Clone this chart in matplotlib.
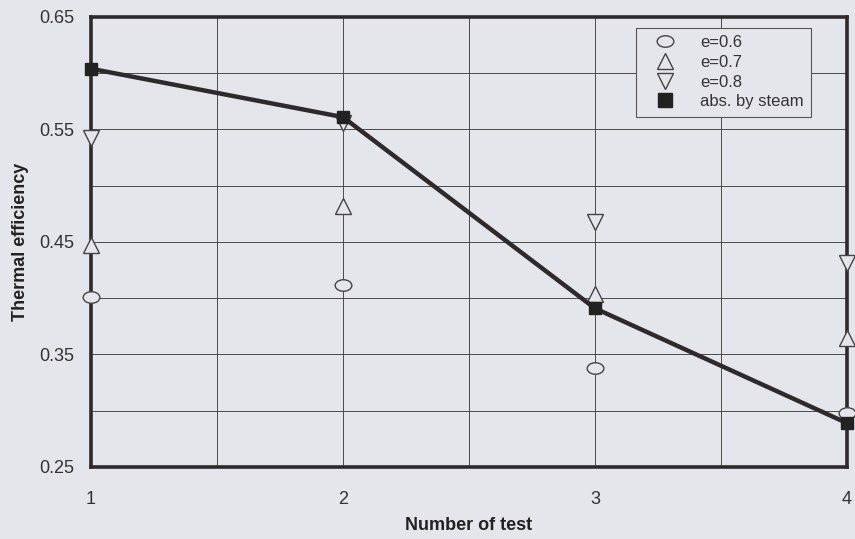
import numpy as np
import matplotlib
matplotlib.use('Agg')
import matplotlib.pyplot as plt
from matplotlib.path import Path
from matplotlib.transforms import Affine2D
from matplotlib.lines import Line2D

plt.rcParams['font.family'] = ['Liberation Sans', 'DejaVu Sans']

# 数据
tests = [1, 2, 3, 4]
e06 = [0.401, 0.412, 0.338, 0.298]
e07 = [0.447, 0.482, 0.404, 0.365]
e08 = [0.542, 0.556, 0.468, 0.431]
steam = [0.604, 0.561, 0.391, 0.289]

y_ticks = [0.25, 0.35, 0.45, 0.55, 0.65]
x_ticks = [1, 2, 3, 4]

bg = '#e5e5ec'
dark = '#2e2a2c'
mk = '#444444'

# 椭圆标记
ellipse = Path.unit_circle().transformed(Affine2D().scale(1.45, 1.0))

fig = plt.figure(figsize=(8.55, 5.39), dpi=100, facecolor=bg)
ax = fig.add_axes([0.1064, 0.1336, 0.8842, 0.8349], facecolor=bg)

style = dict(linestyle='none', markersize=12, markerfacecolor=bg,
             markeredgecolor=mk, markeredgewidth=1.0, zorder=4, clip_on=False)
ax.plot(tests, e06, marker=ellipse, **style)
ax.plot(tests, e07, marker='^', **style)
ax.plot(tests, e08, marker='v', **style)
ax.plot(tests, steam, linestyle='-', color=dark, linewidth=3.2, marker='s', markersize=9,
        markerfacecolor='#222', markeredgecolor='#222', zorder=5, clip_on=False)

ax.set_xlim(1, 4)
ax.set_ylim(0.25, 0.65)
ax.set_xticks(x_ticks)
ax.set_yticks(y_ticks)
ax.set_yticklabels(['%.2f' % v for v in y_ticks])
ax.set_xticks(np.arange(1, 4.01, 0.5), minor=True)
ax.set_yticks(np.arange(0.25, 0.651, 0.05), minor=True)
ax.grid(True, which='both', color='#4a4a4a', linewidth=0.7)
ax.tick_params(which='both', length=0)
ax.tick_params(axis='x', pad=17, labelsize=13, colors='#333')
ax.tick_params(axis='y', pad=12, labelsize=13, colors='#333')
for s in ax.spines.values():
    s.set_linewidth(2.6)
    s.set_color(dark)

ax.set_xlabel('Number of test', fontsize=13, fontweight='bold', color='#222', labelpad=7)
ax.set_ylabel('Thermal efficiency', fontsize=13, fontweight='bold', color='#222', labelpad=7)

handles = [
    Line2D([], [], marker=ellipse, linestyle='none', markersize=12, markerfacecolor='none',
           markeredgecolor=mk, markeredgewidth=1.0),
    Line2D([], [], marker='^', linestyle='none', markersize=12, markerfacecolor='none',
           markeredgecolor=mk, markeredgewidth=1.0),
    Line2D([], [], marker='v', linestyle='none', markersize=12, markerfacecolor='none',
           markeredgecolor=mk, markeredgewidth=1.0),
    Line2D([], [], marker='s', linestyle='none', markersize=10, markerfacecolor='#222',
           markeredgecolor='#222'),
]
labels = ['e=0.6', 'e=0.7', 'e=0.8', 'abs. by steam']
leg = ax.legend(handles, labels, loc='upper right', bbox_to_anchor=(0.953, 0.976), frameon=True,
                fancybox=False, fontsize=12, handlelength=2.6, handletextpad=0.8,
                labelspacing=0.28, borderpad=0.45, borderaxespad=0,
                facecolor=bg, edgecolor='#555')
leg.get_frame().set_linewidth(0.8)
leg.get_frame().set_alpha(1)
for t in leg.get_texts():
    t.set_color('#333')

plt.savefig('out.png', dpi=100, facecolor=bg)
